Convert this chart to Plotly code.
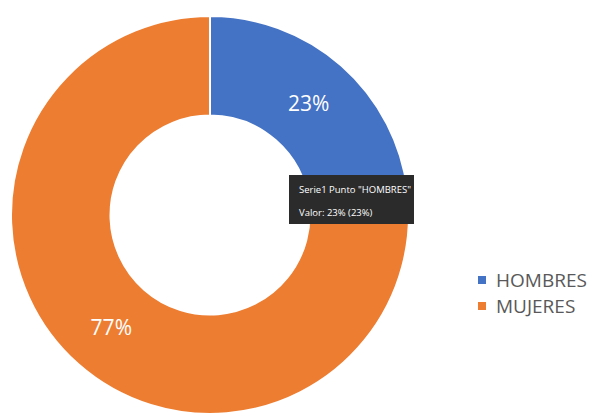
import plotly.graph_objects as go

categories = ["HOMBRES", "MUJERES"]
values = [23, 77]
colors = ["#4472C4", "#ED7D31"]
tooltip_lines = ['Serie1 Punto "HOMBRES"', "Valor: 23% (23%)"]

W, H = 613, 417
cx, cy, r = 202, 207, 199

fig = go.Figure()
fig.add_trace(go.Pie(
    labels=categories,
    values=values,
    hole=0.5,
    sort=False,
    direction="clockwise",
    rotation=0,
    marker=dict(colors=colors, line=dict(color="white", width=2)),
    textinfo="percent",
    texttemplate="%{percent:.0%}",
    textposition="inside",
    insidetextorientation="horizontal",
    textfont=dict(color="white", size=21, family="Open Sans"),
    domain=dict(x=[(cx - r) / W, (cx + r) / W], y=[1 - (cy + r) / H, 1 - (cy - r) / H]),
    hoverinfo="skip",
    showlegend=False,
))

# tooltip box
fig.add_shape(type="rect", xref="paper", yref="paper",
              x0=281 / W, x1=406 / W, y0=1 - 216 / H, y1=1 - 167 / H,
              fillcolor="#2b2b2b", line=dict(width=0), layer="above")
for i, line in enumerate(tooltip_lines):
    fig.add_annotation(
        x=290 / W, y=1 - (182 + 22 * i) / H, xref="paper", yref="paper",
        xanchor="left", yanchor="middle", showarrow=False, align="left",
        text=line, borderpad=0,
        font=dict(color="white", size=9.5, family="Open Sans"),
    )

# legend
leg_x, leg_y0, leg_dy = 474, 272, 26
for i, (cat, col) in enumerate(zip(categories, colors)):
    yy = leg_y0 + leg_dy * i
    fig.add_shape(type="rect", xref="paper", yref="paper",
                  x0=(leg_x - 4) / W, x1=(leg_x + 4) / W,
                  y0=1 - (yy + 4) / H, y1=1 - (yy - 4) / H,
                  fillcolor=col, line=dict(width=0))
    fig.add_annotation(
        x=(leg_x + 13) / W, y=1 - yy / H, xref="paper", yref="paper",
        xanchor="left", yanchor="middle", showarrow=False, borderpad=0,
        text=cat, font=dict(size=19, color="#595959", family="Open Sans"),
    )

fig.update_layout(
    width=W, height=H,
    margin=dict(l=0, r=0, t=0, b=0),
    paper_bgcolor="white",
    showlegend=False,
)

fig.write_html("out.html")
